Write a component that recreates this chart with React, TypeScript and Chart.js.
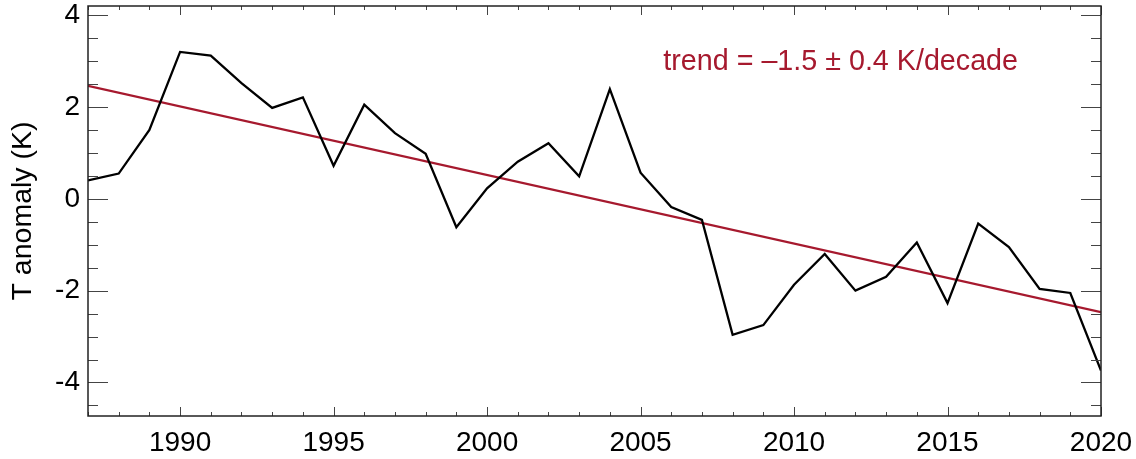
import React, { useEffect, useRef } from "react";
import { Chart, registerables } from "chart.js";

Chart.register(...registerables);

const years = [
  1987, 1988, 1989, 1990, 1991, 1992, 1993, 1994, 1995, 1996, 1997, 1998,
  1999, 2000, 2001, 2002, 2003, 2004, 2005, 2006, 2007, 2008, 2009, 2010,
  2011, 2012, 2013, 2014, 2015, 2016, 2017, 2018, 2019, 2020,
];
const anomaly = [
  0.4, 0.55, 1.5, 3.2, 3.12, 2.52, 1.98, 2.21, 0.72, 2.05, 1.43, 0.98,
  -0.62, 0.23, 0.81, 1.21, 0.49, 2.39, 0.57, -0.18, -0.46, -2.96, -2.75,
  -1.87, -1.2, -2.0, -1.7, -0.95, -2.27, -0.54, -1.05, -1.96, -2.05, -3.74,
];
const trendYears = [1987, 2020];
const trendValues = [2.46, -2.47];

const xLabelTicks = [1990, 1995, 2000, 2005, 2010, 2015, 2020];
const xMinorTicks = years;
const yLabelTicks = [-4, -2, 0, 2, 4];
const yMinorTicks = [-4.5, -4, -3.5, -3, -2.5, -2, -1.5, -1, -0.5, 0, 0.5, 1, 1.5, 2, 2.5, 3, 3.5, 4];

const yTitle = "T anomaly (K)";
const trendText = "trend = \u20131.5 \u00b1 0.4 K/decade";

const RED = "#A6192E";
const FONT = "'Liberation Sans', Arial, sans-serif";

const frame = {
  id: "frame",
  afterDraw(chart: any) {
    const { ctx, chartArea } = chart;
    const xs = chart.scales.x;
    const ys = chart.scales.y;
    ctx.save();
    ctx.strokeStyle = "#444";
    ctx.lineWidth = 1;
    ctx.beginPath();
    for (const v of xMinorTicks) {
      const p = Math.round(xs.getPixelForValue(v)) + 0.5;
      const len = xLabelTicks.includes(v) ? 9 : 4;
      ctx.moveTo(p, chartArea.bottom);
      ctx.lineTo(p, chartArea.bottom - len);
      ctx.moveTo(p, chartArea.top);
      ctx.lineTo(p, chartArea.top + len);
    }
    for (const v of yMinorTicks) {
      const p = Math.round(ys.getPixelForValue(v)) + 0.5;
      const len = yLabelTicks.includes(v) ? 20 : 10;
      ctx.moveTo(chartArea.left, p);
      ctx.lineTo(chartArea.left + len, p);
      ctx.moveTo(chartArea.right, p);
      ctx.lineTo(chartArea.right - len, p);
    }
    ctx.stroke();
    ctx.lineWidth = 1.5;
    ctx.strokeStyle = "#222";
    ctx.strokeRect(chartArea.left, chartArea.top, chartArea.right - chartArea.left, chartArea.bottom - chartArea.top);
    ctx.fillStyle = RED;
    ctx.font = `28.7px ${FONT}`;
    ctx.textAlign = "right";
    ctx.textBaseline = "alphabetic";
    ctx.fillText(trendText, 1018, 70);
    ctx.restore();
  },
};

export default function App() {
  const ref = useRef<HTMLCanvasElement>(null);
  useEffect(() => {
    document.body.style.margin = "0";
    document.body.style.overflow = "hidden";
    const chart = new Chart(ref.current as HTMLCanvasElement, {
      type: "line",
      data: {
        datasets: [
          {
            data: years.map((y, i) => ({ x: y, y: anomaly[i] })),
            borderColor: "#000",
            borderWidth: 2.3,
            pointRadius: 0,
            tension: 0,
          },
          {
            data: trendYears.map((y, i) => ({ x: y, y: trendValues[i] })),
            borderColor: RED,
            borderWidth: 2.2,
            pointRadius: 0,
            tension: 0,
          },
        ],
      },
      options: {
        responsive: false,
        animation: false,
        devicePixelRatio: 1,
        layout: { padding: { top: 6, right: 35, left: 0, bottom: 0 } },
        plugins: { legend: { display: false }, tooltip: { enabled: false } },
        scales: {
          x: {
            type: "linear",
            min: 1987,
            max: 2020,
            grid: { display: false, drawTicks: false },
            border: { display: false },
            afterBuildTicks: (s: any) => {
              s.ticks = xLabelTicks.map((v) => ({ value: v }));
            },
            afterFit: (s: any) => {
              s.height = 43;
              s.paddingLeft = 0;
              s.paddingRight = 0;
            },
            ticks: {
              color: "#000",
              padding: 10,
              maxRotation: 0,
              autoSkip: false,
              font: { family: FONT, size: 28 },
              callback: (v: any) => String(v),
            },
          },
          y: {
            min: -4.73,
            max: 4.2,
            grid: { display: false, drawTicks: false },
            border: { display: false },
            afterBuildTicks: (s: any) => {
              s.ticks = yLabelTicks.map((v) => ({ value: v }));
            },
            afterFit: (s: any) => {
              s.width = 88;
              s.paddingTop = 0;
              s.paddingBottom = 0;
            },
            title: {
              display: true,
              text: yTitle,
              color: "#000",
              padding: { top: 6, bottom: 0 },
              font: { family: FONT, size: 28.5 },
            },
            ticks: {
              color: "#000",
              padding: 8,
              autoSkip: false,
              font: { family: FONT, size: 28 },
              callback: (v: any) => String(v),
            },
          },
        },
      },
      plugins: [frame],
    });
    return () => chart.destroy();
  }, []);
  return <canvas ref={ref} width={1136} height={459} style={{ display: "block" }} />;
}
